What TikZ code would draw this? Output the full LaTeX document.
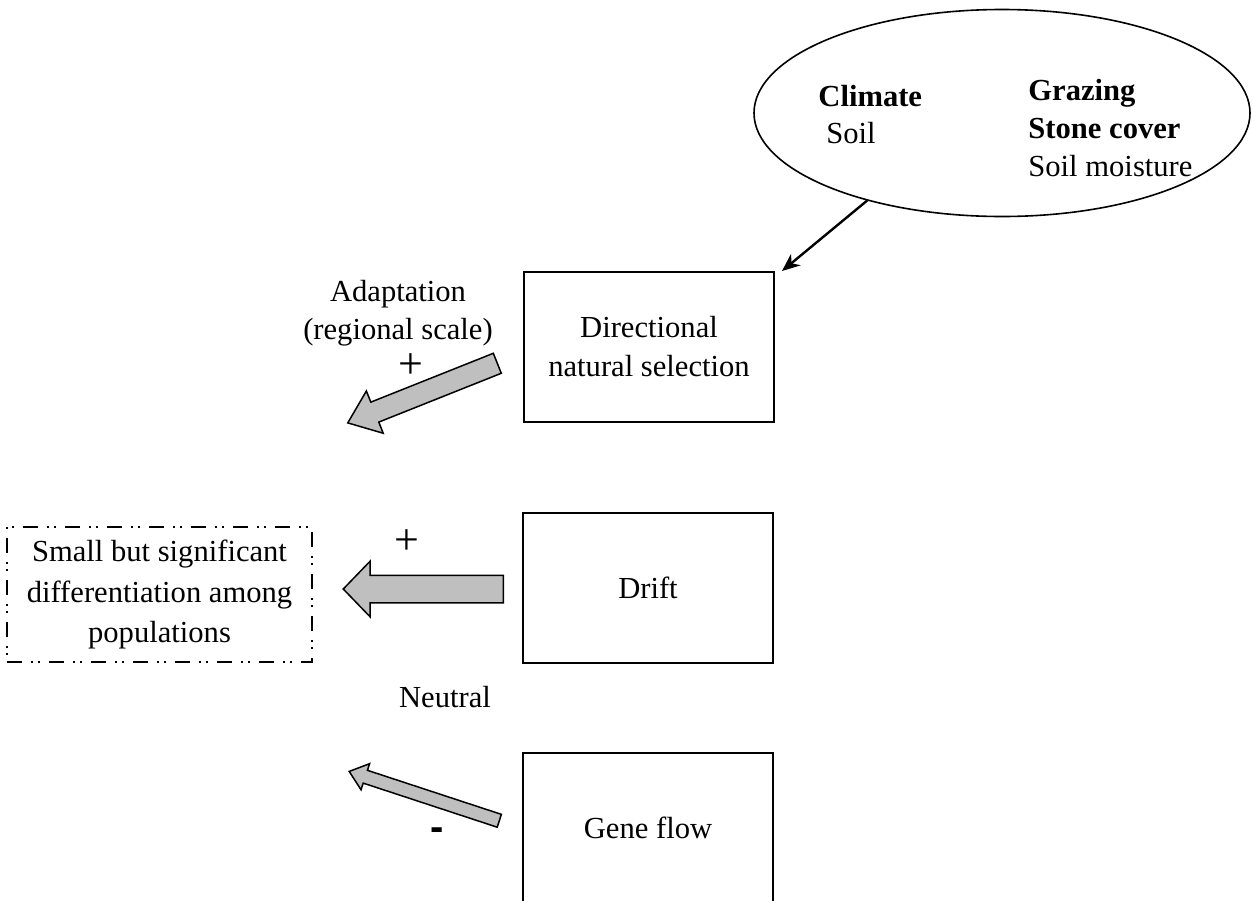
\documentclass[tikz,border=0pt]{standalone}
\usepackage{fontspec}
\setmainfont{Liberation Serif}
\newfontfamily\labelsans{Liberation Sans}
\usetikzlibrary{shapes.geometric, shapes.arrows, arrows.meta, positioning}

\tikzset{
  procbox/.style={draw, line width=1pt, minimum width=125pt, minimum height=75pt, align=center, inner sep=0pt},
  envellipse/.style={draw, ellipse, line width=0.8pt, minimum width=248pt, minimum height=103.5pt},
  factor/.style={anchor=base west, inner sep=0pt},
  outcomebox/.style={draw, line width=0.8pt, dash pattern=on 7.5pt off 4.5pt on 1pt off 2.5pt on 1pt off 4.5pt,
    minimum width=152.5pt, minimum height=67.5pt, align=center, inner sep=0pt},
  fatarrow/.style={single arrow, draw, line width=0.75pt, fill=gray!50, inner xsep=0pt,
    single arrow head indent=0pt, pos=0, anchor=tail, sloped, allow upside down},
  causal/.style={-{Stealth[length=9pt, width=7.5pt]}, line width=1.2pt},
  sign/.style={inner sep=0pt, text height=0.55em, text depth=0pt, font=\fontsize{22}{24}\selectfont},
}

\begin{document}
\begin{tikzpicture}[x=0.5pt, y=-0.5pt, font=\fontsize{15.3}{19.5}\selectfont]
\useasboundingbox (0,0) rectangle (1253,900);
\clip (0,0) rectangle (1253,900);

% environmental factors
\node[envellipse] (env) at (1002,113) {};
\node[factor] (climate) at (818,106) {\bfseries Climate};
\node[factor] (soil) at (826,143) {Soil};
\node[factor] (grazing) at (1028,100) {\bfseries Grazing};
\node[factor] (stone) at (1028,138) {\bfseries Stone cover};
\node[factor] (moist) at (1028,176) {Soil moisture};

% evolutionary processes
\node[procbox] (dirsel) at (649,347) {Directional\\natural selection};
\node[procbox] (drift) at (648,588) {Drift};
\node[procbox] (gene) at (648,828) {Gene flow};

% outcome
\node[outcomebox, font=\fontsize{15.3}{20.3}\selectfont] (diff) at (159.5,594.5)
  {Small but significant\\differentiation among\\populations};

% labels
\node[align=center, inner sep=0pt, font=\fontsize{15.3}{19}\selectfont] (adapt) at (398,313) {Adaptation\\(regional scale)};
\node[sign] (adplus) at (411,373) {+};
\node[sign] (drplus) at (407,549) {+};
\node[inner sep=0pt] (neutral) at (445,697) {Neutral};
\node[inner sep=0pt, font=\labelsans\bfseries\fontsize{20}{22}\selectfont] (minus) at (437.5,834) {-};

% effects
\draw[causal] (env.213.5) -- ([xshift=3.5pt]dirsel.north east);

\coordinate (adapttip) at (350,422);
\coordinate (drifttip) at (345,589);
\coordinate (genetip) at (351,772);
\path ([xshift=-12.5pt, yshift=-8pt]dirsel.west) -- (adapttip)
  node[fatarrow, minimum height=80.5pt, inner ysep=5pt, single arrow head extend=6pt, single arrow tip angle=76] (adaptarrow) {};
\path ([xshift=-9pt, yshift=-0.5pt]drift.west) -- (drifttip)
  node[fatarrow, minimum height=80pt, inner ysep=6.5pt, single arrow head extend=7pt, single arrow tip angle=92] (driftarrow) {};
\path ([xshift=-11pt, yshift=3.5pt]gene.west) -- (genetip)
  node[fatarrow, minimum height=79pt, inner ysep=3pt, single arrow head extend=3.5pt, single arrow tip angle=78] (genearrow) {};
\end{tikzpicture}
\end{document}
